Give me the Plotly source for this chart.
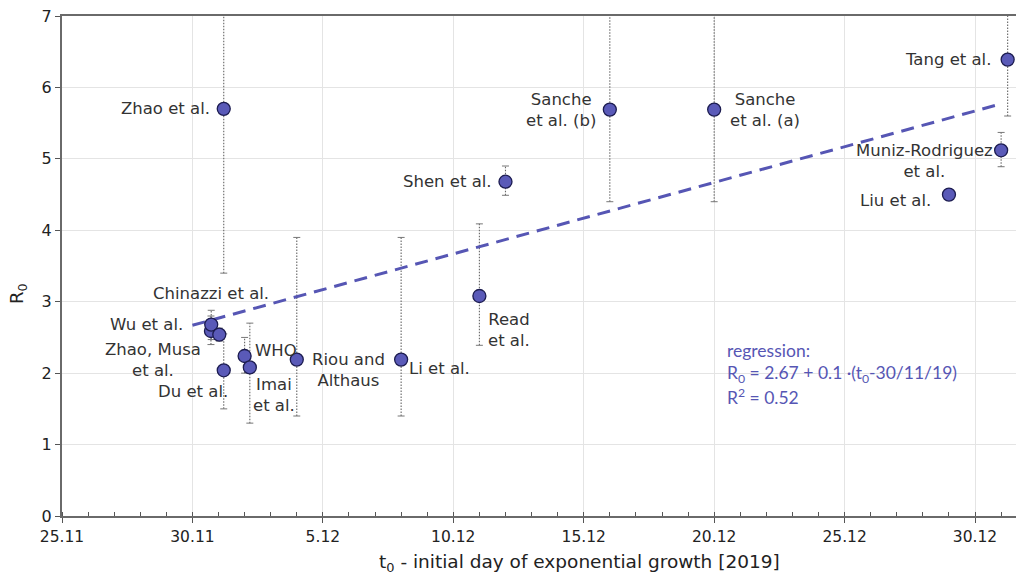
import plotly.graph_objects as go

# ---- data (x = days since 30.11.2019) ----
names = ["Zhao et al.", "Chinazzi et al.", "Wu et al.", "Zhao, Musa<br>et al.", "Du et al.",
         "WHO", "Imai<br>et al.", "Riou and<br>Althaus", "Li et al.", "Read<br>et al.",
         "Shen et al.", "Sanche<br>et al. (b)", "Sanche<br>et al. (a)", "Tang et al.",
         "Muniz-Rodriguez<br>et al.", "Liu et al."]
t0_days = [1.2, 0.71, 0.72, 1.03, 1.2, 2.0, 2.2, 4.0, 8.0, 11.0, 12.0, 16.0, 20.0, 31.25, 31.0, 29.0]
r0 = [5.7, 2.59, 2.68, 2.54, 2.04, 2.24, 2.08, 2.19, 2.19, 3.08, 4.68, 5.69, 5.69, 6.39, 5.12, 4.5]
r0_low = [3.4, 2.4, 2.47, 2.45, 1.5, 2.0, 1.3, 1.4, 1.4, 2.39, 4.49, 4.4, 4.4, 5.6, 4.89, 4.45]
r0_high = [7.6, 2.8, 2.88, 2.63, 2.55, 2.5, 2.7, 3.9, 3.9, 4.09, 4.9, 7.6, 7.6, 7.6, 5.37, 4.55]

reg_intercept = 2.67
reg_slope = 0.1
reg_t_range = [0, 31]
reg_lines = ["regression:",
             "R<sub>0</sub> = 2.67 + 0.1 ·(t<sub>0</sub>-30/11/19)",
             "R<sup>2</sup> = 0.52"]

tick_vals = [-5, 0, 5, 10, 15, 20, 25, 30]
tick_text = ["25.11", "30.11", "5.12", "10.12", "15.12", "20.12", "25.12", "30.12"]
y_ticks = [0, 1, 2, 3, 4, 5, 6, 7]

# label placement (pixel offsets from each point)
label_pos = {
    "Zhao et al.": ("right", -12, 0),
    "Chinazzi et al.": ("center", 0, 38),
    "Wu et al.": ("right", -26, 0),
    "Zhao, Musa<br>et al.": ("center", -66, -25),
    "Du et al.": ("center", -31, -21),
    "WHO": ("left", 8, 6),
    "Imai<br>et al.": ("center", 24, -28),
    "Riou and<br>Althaus": ("center", 52, -10),
    "Li et al.": ("left", 6, -9),
    "Read<br>et al.": ("center", 30, -34),
    "Shen et al.": ("right", -11, 0),
    "Sanche<br>et al. (b)": ("center", -49, 0),
    "Sanche<br>et al. (a)": ("center", 51, 0),
    "Tang et al.": ("right", -15, 0),
    "Muniz-Rodriguez<br>et al.": ("center", -77, -11),
    "Liu et al.": ("right", -16, -6),
}

FONT = "DejaVu Sans"
BLUE = "#5656b4"

fig = go.Figure()

# error bars as dotted lines
ex, ey = [], []
for t, lo, hi in zip(t0_days, r0_low, r0_high):
    ex += [t, t, None]
    ey += [lo, hi, None]
fig.add_trace(go.Scatter(x=ex, y=ey, mode="lines",
                         line=dict(color="#666666", width=1.1, dash="1.5px,1.5px"),
                         hoverinfo="skip", showlegend=False))
fig.add_trace(go.Scatter(x=t0_days + t0_days, y=r0_low + r0_high, mode="markers",
                         marker=dict(symbol="line-ew", size=5, line=dict(color="#777777", width=1)),
                         hoverinfo="skip", showlegend=False))

# regression line
reg_y = [reg_intercept + reg_slope * t for t in reg_t_range]
fig.add_trace(go.Scatter(x=reg_t_range, y=reg_y, mode="lines",
                         line=dict(color=BLUE, width=3, dash="13px,8px"),
                         hoverinfo="skip", showlegend=False))

# points
fig.add_trace(go.Scatter(x=t0_days, y=r0, mode="markers",
                         marker=dict(size=13, color="#5a5ab8", line=dict(color="#1c1c50", width=1.3)),
                         text=names, showlegend=False))

for n, t, v in zip(names, t0_days, r0):
    anchor, dx, dy = label_pos[n]
    fig.add_annotation(x=t, y=v, text=n, showarrow=False, xanchor=anchor, yanchor="middle",
                       xshift=dx, yshift=dy, align="center",
                       font=dict(family=FONT, size=16.5, color="#333333"))

# regression text (one annotation per line)
for i, line in enumerate(reg_lines):
    fig.add_annotation(xref="paper", yref="paper", x=(725 - 62) / 954,
                       y=(516 - (351 + 22.5 * i)) / 500,
                       xanchor="left", yanchor="middle", align="left", showarrow=False,
                       text=line, font=dict(family="Lato", size=17.5, color=BLUE))

# axis titles
fig.add_annotation(xref="paper", yref="paper", x=(579 - 62) / 954, y=-(563 - 516) / 500,
                   xanchor="center", yanchor="middle", showarrow=False,
                   text="t<sub>0</sub> - initial day of exponential growth [2019]",
                   font=dict(family=FONT, size=18.5, color="#222222"))
fig.add_annotation(xref="paper", yref="paper", x=-(62 - 18) / 954, y=(516 - 294) / 500,
                   xanchor="center", yanchor="middle", showarrow=False, textangle=-90,
                   text="R<sub>0</sub>",
                   font=dict(family=FONT, size=18, color="#222222"))

fig.update_layout(
    width=1016, height=576,
    margin=dict(l=62, r=0, t=16, b=60),
    paper_bgcolor="white", plot_bgcolor="white",
    xaxis=dict(range=[-5, 31.57], tickvals=tick_vals, ticktext=tick_text,
               showgrid=True, gridcolor="#e4e4e4", gridwidth=1, zeroline=False,
               showline=True, linecolor="#6a6a6a", linewidth=2, mirror=True,
               ticks="outside", ticklen=5, tickcolor="#555555",
               minor=dict(dtick=1, tick0=0, ticks="inside", ticklen=4, tickcolor="#555555", showgrid=False),
               tickfont=dict(family=FONT, size=15.5, color="#222222")),
    yaxis=dict(range=[0, 7], tickvals=y_ticks,
               showgrid=True, gridcolor="#e4e4e4", gridwidth=1, zeroline=False,
               showline=True, linecolor="#6a6a6a", linewidth=2,
               ticks="outside", ticklen=5, tickcolor="#555555",
               tickfont=dict(family=FONT, size=16, color="#222222")),
)

fig.write_html("out.html", config={"displayModeBar": False},
               post_script="document.body.style.margin='0';document.body.style.overflow='hidden';")
